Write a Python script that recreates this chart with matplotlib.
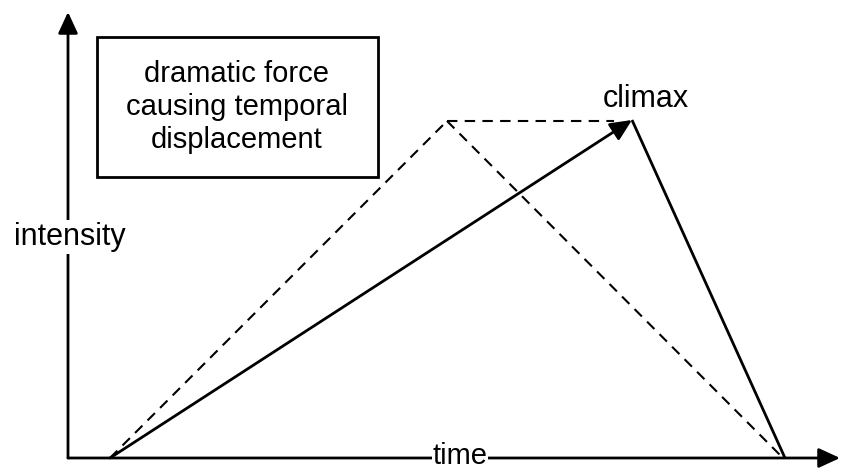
import matplotlib.pyplot as plt
from matplotlib.patches import Rectangle

plt.rcParams['font.family'] = ['Liberation Sans', 'DejaVu Sans']

# diagram coordinates (pixels, y down)
axis_origin = (68, 458)
y_axis_top = (68, 12)
x_axis_end = (840, 458)

# solid path: start -> climax -> end
solid_x = [110, 632, 785]
solid_y = [458, 120, 458]

# dashed path: start -> early peak -> climax arrow, and peak -> end
dashed_up_x = [110, 447]
dashed_up_y = [458, 121]
dashed_flat_x = [447, 632]
dashed_flat_y = [121, 121]
dashed_down_x = [447, 783]
dashed_down_y = [121, 458]

box_text = "dramatic force\ncausing temporal\ndisplacement"

fig = plt.figure(figsize=(8.44, 4.72), dpi=100)
ax = fig.add_axes([0, 0, 1, 1])
ax.set_xlim(0, 844)
ax.set_ylim(472, 0)
ax.axis('off')

head = dict(arrowstyle='-|>,head_length=1.3,head_width=0.6', color='black', lw=2,
            shrinkA=0, shrinkB=0)

# axes
ax.annotate('', xy=y_axis_top, xytext=axis_origin, arrowprops=head)
ax.annotate('', xy=x_axis_end, xytext=axis_origin, arrowprops=head)

# solid line
ax.plot(solid_x[1:], solid_y[1:], color='black', lw=2, solid_capstyle='butt')
ax.annotate('', xy=(solid_x[1], solid_y[1]), xytext=(solid_x[0], solid_y[0]),
            arrowprops=dict(head, lw=2))

# dashed lines
dash = (0, (5, 3.5))
ax.plot(dashed_up_x, dashed_up_y, color='black', lw=1.5, linestyle=dash)
ax.plot(dashed_down_x, dashed_down_y, color='black', lw=1.5, linestyle=dash)
ax.plot(dashed_flat_x[:1] + [dashed_flat_x[1] - 18], dashed_flat_y, color='black',
        lw=1.5, linestyle=dash)

# box with text
ax.add_patch(Rectangle((97, 37), 281, 140, fill=False, edgecolor='black', lw=2))
ax.text(237, 107, box_text, ha='center', va='center', fontsize=21, linespacing=1.25)

# labels
ax.text(646, 99, 'climax', ha='center', va='center', fontsize=22)
ax.text(70, 237, 'intensity', ha='center', va='center', fontsize=22,
        bbox=dict(facecolor='white', edgecolor='none', pad=1))
ax.text(460, 456, 'time', ha='center', va='center', fontsize=21,
        bbox=dict(facecolor='white', edgecolor='none', pad=0.5))

fig.savefig('out.png', dpi=100)
